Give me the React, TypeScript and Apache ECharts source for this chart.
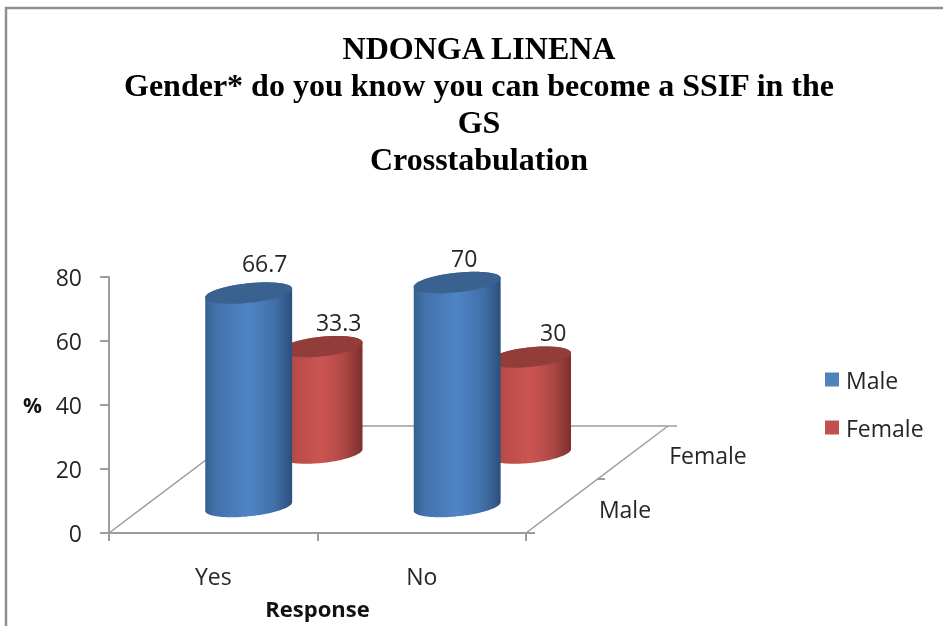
import React, { useEffect, useRef } from "react";
import * as echarts from "echarts";

const titleLines = [
  "NDONGA LINENA",
  "Gender* do you know you can become a SSIF in the",
  "GS",
  "Crosstabulation",
];
const categories = ["Yes", "No"];
const maleValues = [66.7, 70];
const femaleValues = [33.3, 30];
const depthLabels = ["Male", "Female"];
const yTicks = { min: 0, max: 80, interval: 20 };

const FONT = "Open Sans";
const INK = "#262626";
const AXIS = "#9c9c9c";

// Pseudo-3D: each depth row is shifted right/up by a fraction of a category band.
const RX = 0.2095;
const RY = 0.047;
const TILT = (-6 * Math.PI) / 180;

const blueFill = new echarts.graphic.LinearGradient(0, 0, 1, 0, [
  { offset: 0, color: "#34608f" },
  { offset: 0.12, color: "#4272ac" },
  { offset: 0.5, color: "#5084c6" },
  { offset: 0.8, color: "#4170a8" },
  { offset: 1, color: "#2b4f7c" },
]);
const redFill = new echarts.graphic.LinearGradient(0, 0, 1, 0, [
  { offset: 0, color: "#a84643" },
  { offset: 0.2, color: "#bb4c49" },
  { offset: 0.5, color: "#cc5552" },
  { offset: 0.78, color: "#ad4845" },
  { offset: 1, color: "#7c2f2c" },
]);

function ellipsePoint(cx: number, cy: number, a: number, b: number, t: number) {
  return [
    cx + a * Math.cos(t) * Math.cos(TILT) - b * Math.sin(t) * Math.sin(TILT),
    cy + a * Math.cos(t) * Math.sin(TILT) + b * Math.sin(t) * Math.cos(TILT),
  ];
}

function cylinderRenderer(
  dx: number,
  dy: number,
  rxScale: number,
  fill: any,
  capColor: string,
  labelShift: number[][],
) {
  return (params: any, api: any) => {
    const cat = api.value(0);
    const val = api.value(1);
    const band = api.size([1, 0])[0];
    const base = api.coord([cat, 0]);
    const top = api.coord([cat, val]);
    const cx = base[0] + dx * band;
    const by = base[1] - dy * band;
    const ty = top[1] - dy * band;
    const a = RX * rxScale * band;
    const b = RY * band;
    const t0 = Math.atan2(-b * Math.sin(TILT), a * Math.cos(TILT));
    const N = 48;
    const body: number[][] = [];
    for (let i = 0; i <= N; i++) {
      body.push(ellipsePoint(cx, by, a, b, t0 + (Math.PI * i) / N));
    }
    for (let i = 0; i <= N; i++) {
      body.push(ellipsePoint(cx, ty, a, b, t0 + Math.PI + (Math.PI * i) / N));
    }
    const cap: number[][] = [];
    for (let i = 0; i < 2 * N; i++) {
      cap.push(ellipsePoint(cx, ty, a, b, (Math.PI * i) / N));
    }
    const shift = labelShift[params.dataIndex];
    return {
      type: "group",
      children: [
        { type: "polygon", shape: { points: body }, style: { fill } },
        { type: "polygon", shape: { points: cap }, style: { fill: capColor } },
        {
          type: "text",
          style: {
            text: String(val),
            x: cx + shift[0],
            y: ty + shift[1],
            align: "center",
            verticalAlign: "middle",
            font: `23px "${FONT}"`,
            fill: INK,
          },
        },
      ],
    };
  };
}

export default function App() {
  const ref = useRef<HTMLDivElement>(null);
  useEffect(() => {
    const chart = echarts.init(ref.current!, undefined, { renderer: "svg" });
    const plainLine = (x1: number, y1: number, x2: number, y2: number, width = 1.5) => ({
      type: "line",
      z: 0,
      silent: true,
      shape: { x1, y1, x2, y2 },
      style: { stroke: AXIS, lineWidth: width },
    });
    const depthText = (text: string, x: number, y: number) => ({
      type: "text",
      z: 1,
      style: {
        text,
        x,
        y,
        align: "center",
        verticalAlign: "middle",
        font: `23px "${FONT}"`,
        fill: INK,
      },
    });
    chart.setOption({
      animation: false,
      backgroundColor: "#ffffff",
      title: {
        text: titleLines.join("\n"),
        left: 479,
        top: 29,
        padding: 0,
        textAlign: "center",
        textStyle: {
          fontFamily: "Liberation Serif",
          fontWeight: "bold",
          fontSize: 32,
          lineHeight: 37,
          color: "#000000",
        },
      },
      grid: { left: 109, top: 277, width: 417, height: 256, containLabel: false, outerBoundsMode: "none" },
      xAxis: {
        type: "category",
        data: categories,
        name: "Response",
        nameLocation: "middle",
        nameGap: 64,
        nameTextStyle: { fontFamily: FONT, fontWeight: "bold", fontSize: 22, color: "#111111" },
        axisLine: { show: true, onZero: false, lineStyle: { color: AXIS, width: 2 } },
        axisTick: { show: true, length: 8, alignWithLabel: false, lineStyle: { color: AXIS, width: 2 } },
        axisLabel: { margin: 31, fontFamily: FONT, fontSize: 23, color: INK },
        splitLine: { show: false },
      },
      yAxis: {
        type: "value",
        min: yTicks.min,
        max: yTicks.max,
        interval: yTicks.interval,
        name: "%",
        nameLocation: "middle",
        nameRotate: 0,
        nameGap: 67,
        nameTextStyle: { fontFamily: FONT, fontWeight: "bold", fontSize: 21, color: "#111111" },
        axisLine: { show: true, lineStyle: { color: AXIS, width: 2 } },
        axisTick: { show: true, length: 9, lineStyle: { color: AXIS, width: 2 } },
        axisLabel: { margin: 27, fontFamily: FONT, fontSize: 23, color: INK },
        splitLine: { show: false },
      },
      legend: {
        orient: "vertical",
        left: 820,
        top: 363,
        itemWidth: 14,
        itemHeight: 14,
        itemGap: 25,
        icon: "rect",
        data: ["Male", "Female"],
        textStyle: { fontFamily: FONT, fontSize: 23, color: INK, padding: [0, 0, 0, 2] },
      },
      graphic: {
        elements: [
          // page frame
          {
            type: "polyline",
            z: 0,
            silent: true,
            shape: { points: [[6, 626], [6, 8], [943, 8]] },
            style: { stroke: "#8f8f8f", fill: "none", lineWidth: 2.5 },
          },
          // floor
          plainLine(109, 533, 251, 426),
          plainLine(251, 426, 677, 426),
          plainLine(526, 533, 668, 426),
          plainLine(526, 533, 535, 533, 2),
          plainLine(597, 479, 605, 479, 2),
          depthText(depthLabels[0], 625, 509),
          depthText(depthLabels[1], 708, 455),
        ],
      },
      series: [
        {
          name: "Female",
          type: "custom",
          z: 2,
          itemStyle: { color: "#c0504d" },
          data: femaleValues.map((v, i) => [i, v]),
          encode: { x: 0, y: 1 },
          renderItem: cylinderRenderer(0.52, 0.383, 0.94, redFill, "#923d39", [
            [17, -25],
            [23, -25],
          ]),
        },
        {
          name: "Male",
          type: "custom",
          z: 3,
          itemStyle: { color: "#4f81bd" },
          data: maleValues.map((v, i) => [i, v]),
          encode: { x: 0, y: 1 },
          renderItem: cylinderRenderer(0.17, 0.127, 1, blueFill, "#3a6291", [
            [16, -30],
            [7, -25],
          ]),
        },
      ],
    });
    return () => chart.dispose();
  }, []);
  return (
    <div
      ref={ref}
      style={{
        position: "fixed",
        left: 0,
        top: 0,
        width: 943,
        height: 626,
        background: "#fff",
        filter: "blur(0.4px)",
      }}
    />
  );
}
